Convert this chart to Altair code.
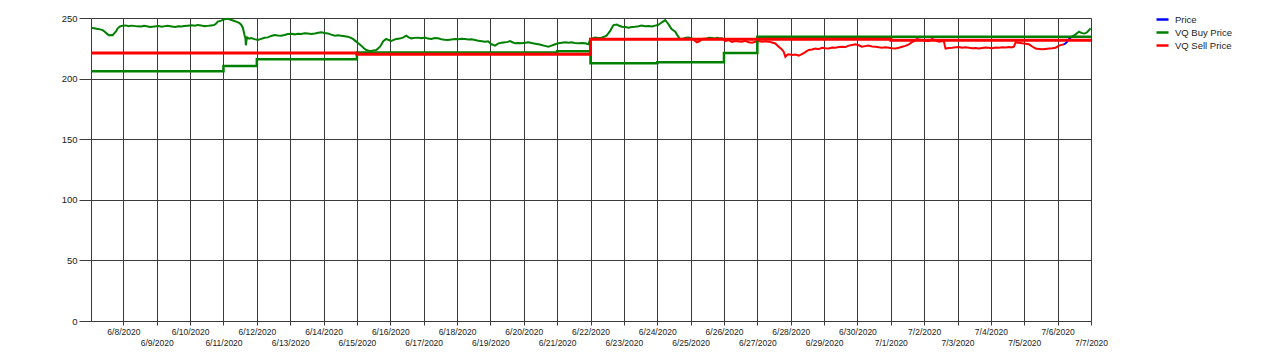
import altair as alt
import pandas as pd

# ---------------- data (days since 2020-06-07 00:00) ----------------
price_day = [
    0.03, 0.12, 0.23, 0.30, 0.38, 0.45, 0.53, 0.58, 0.63, 0.68, 0.73, 0.78, 0.83, 0.90, 0.98,
    1.08, 1.15, 1.23, 1.32, 1.40, 1.53, 1.62, 1.70, 1.80, 1.93, 2.05, 2.15, 2.25, 2.33, 2.45,
    2.55, 2.65, 2.73, 2.83, 2.93, 3.05, 3.15, 3.23, 3.33, 3.43, 3.53, 3.63, 3.73, 3.78, 3.83,
    3.93, 4.03, 4.13, 4.22, 4.33, 4.40, 4.48, 4.53, 4.58, 4.63, 4.66, 4.67, 4.69, 4.71, 4.77,
    4.83, 4.93, 5.03, 5.13, 5.23, 5.33, 5.43, 5.53, 5.63, 5.73, 5.83, 5.93, 6.04, 6.14, 6.23,
    6.33, 6.43, 6.53, 6.63, 6.74, 6.84, 6.93, 7.03, 7.13, 7.23, 7.34, 7.43, 7.53, 7.63, 7.73,
    7.80, 7.88, 7.98, 8.05, 8.13, 8.20, 8.28, 8.36, 8.43, 8.50, 8.58, 8.64, 8.69, 8.74, 8.78,
    8.83, 8.88, 8.95, 9.03, 9.10, 9.18, 9.28, 9.38, 9.43, 9.48, 9.55, 9.63, 9.73, 9.83, 9.93,
    10.04, 10.13, 10.23, 10.33, 10.43, 10.53, 10.63, 10.73, 10.83, 10.94, 11.04, 11.14, 11.24,
    11.34, 11.44, 11.54, 11.64, 11.74, 11.84, 11.93, 12.03, 12.08, 12.14, 12.24, 12.34, 12.44,
    12.52, 12.59, 12.66, 12.74, 12.84, 12.93, 13.04, 13.14, 13.24, 13.34, 13.44, 13.53, 13.63,
    13.74, 13.81, 13.88, 13.96, 14.04, 14.14, 14.24, 14.34, 14.43, 14.53, 14.64, 14.74, 14.84,
    14.94, 14.99, 15.07, 15.14, 15.24, 15.33, 15.41, 15.48, 15.54, 15.59, 15.64, 15.69, 15.79,
    15.86, 15.94, 16.04, 16.14, 16.24, 16.34, 16.44, 16.53, 16.64, 16.74, 16.84, 16.94, 17.02,
    17.09, 17.17, 17.24, 17.29, 17.34, 17.39, 17.43, 17.50, 17.54, 17.61, 17.68, 17.79, 17.86,
    17.94, 18.05, 18.12, 18.19, 18.27, 18.34, 18.45, 18.55, 18.64, 18.72, 18.80, 18.88, 18.94,
    19.04, 19.14, 19.24, 19.34, 19.44, 19.54, 19.64, 19.74, 19.84, 19.94, 20.04, 20.14, 20.24,
    20.34, 20.44, 20.54, 20.64, 20.72, 20.79, 20.84, 20.89, 20.94, 21.04, 21.14, 21.24, 21.32,
    21.39, 21.47, 21.54, 21.64, 21.74, 21.84, 21.94, 22.04, 22.14, 22.24, 22.34, 22.44, 22.53,
    22.64, 22.74, 22.84, 22.94, 23.04, 23.13, 23.23, 23.33, 23.44, 23.54, 23.64, 23.73, 23.84,
    23.94, 24.04, 24.14, 24.24, 24.34, 24.44, 24.54, 24.62, 24.69, 24.79, 24.86, 24.94, 25.04,
    25.14, 25.24, 25.34, 25.44, 25.52, 25.59, 25.62, 25.64, 25.74, 25.84, 25.94, 26.04, 26.14,
    26.24, 26.34, 26.44, 26.54, 26.64, 26.74, 26.84, 26.94, 27.04, 27.14, 27.24, 27.34, 27.44,
    27.54, 27.62, 27.69, 27.72, 27.74, 27.84, 27.94, 28.04, 28.14, 28.24, 28.34, 28.44, 28.54,
    28.64, 28.74, 28.84, 28.94, 29.04, 29.12, 29.19, 29.24, 29.30, 29.34, 29.38, 29.42, 29.48,
    29.54, 29.60, 29.64, 29.69, 29.74, 29.79, 29.84, 29.89, 29.94, 29.99,
]
price_val = [
    242.0, 241.6, 241.0, 240.6, 240.0, 238.5, 236.5, 235.6, 236.0, 235.8, 237.5, 239.0, 241.5, 243.0, 243.7,
    243.9, 243.3, 243.7, 243.5, 243.1, 243.0, 243.5, 243.2, 242.6, 243.0, 243.4, 242.8, 243.3, 243.5, 243.0,
    242.6, 243.1, 243.0, 243.4, 243.7, 244.0, 243.6, 244.3, 243.8, 243.3, 243.5, 243.9, 244.3, 245.5, 247.0,
    247.8, 249.0, 249.3, 248.6, 247.5, 246.8, 245.8, 244.5, 242.0, 236.0, 233.0, 227.5, 231.5, 234.0, 233.0,
    233.5, 232.6, 231.8, 232.8, 233.7, 234.0, 235.2, 236.0, 235.6, 235.3, 236.0, 236.8, 236.9, 236.5, 237.0,
    236.8, 237.4, 237.3, 236.9, 237.3, 237.8, 238.2, 237.6, 237.3, 236.3, 235.4, 235.8, 235.4, 235.0, 234.6,
    233.8, 232.7, 230.5, 229.0, 227.2, 225.3, 223.6, 223.0, 222.8, 223.3, 223.6, 225.0, 226.3, 228.5, 230.5,
    231.8, 232.7, 231.8, 231.0, 232.0, 232.7, 233.0, 233.8, 234.6, 235.4, 234.0, 233.2, 233.6, 233.8, 233.3,
    233.8, 233.0, 232.7, 233.4, 233.2, 232.5, 232.0, 231.8, 232.3, 232.7, 232.4, 232.9, 232.7,
    232.2, 232.5, 231.8, 231.3, 230.9, 230.5, 230.8, 228.3, 227.9, 227.2, 229.1, 229.5, 229.9,
    230.3, 231.0, 230.0, 229.1, 229.4, 229.1, 229.6, 229.9, 229.3, 228.8, 228.3, 227.7, 227.0,
    226.3, 227.0, 227.7, 228.5, 229.1, 229.6, 229.9, 229.5, 229.9, 229.4, 229.1, 229.3, 229.1,
    228.3, 232.7, 233.3, 233.8, 233.5, 233.8, 234.5, 235.4, 237.5, 239.3, 242.0, 244.2, 244.7,
    243.6, 242.8, 242.5, 242.0, 242.6, 242.8, 243.2, 243.7, 243.2, 243.4, 243.0, 243.7, 244.2,
    245.5, 247.0, 248.3, 246.5, 244.7, 242.5, 240.9, 239.5, 238.7, 235.4, 232.7, 233.2, 233.8,
    234.0, 233.2, 231.5, 230.0, 231.0, 232.7, 233.0, 233.6, 233.5, 233.1, 233.6, 233.2, 233.5,
    231.0, 231.8, 230.2, 231.0, 230.6, 230.5, 231.2, 230.0, 229.6, 230.4, 231.0, 230.4, 230.8,
    230.5, 229.8, 229.0, 226.3, 224.5, 222.2, 218.0, 219.5, 220.0, 219.5, 219.8, 219.0, 220.0,
    221.0, 222.5, 223.6, 224.0, 224.8, 224.3, 225.5, 225.0, 224.8, 225.6, 225.5, 226.0, 226.3,
    226.0, 227.2, 227.8, 228.3, 227.5, 226.3, 226.8, 227.2, 226.5, 226.3, 225.8, 225.5, 225.9,
    225.5, 225.0, 224.8, 225.5, 226.3, 227.0, 228.3, 229.8, 231.0, 232.7, 232.0, 231.8, 231.3,
    231.0, 232.7, 231.5, 230.5, 230.8, 231.0, 227.0, 224.8, 225.3, 225.5, 225.8, 226.0, 225.4,
    225.8, 225.5, 225.0, 225.3, 224.8, 225.2, 225.6, 225.5, 225.1, 225.6, 225.5, 225.8, 225.6,
    226.0, 225.7, 226.3, 228.5, 229.9, 229.6, 229.1, 228.8, 228.3, 226.5, 224.8, 224.5, 224.2,
    224.5, 224.8, 225.0, 225.5, 227.2, 227.8, 228.3, 229.1, 231.0, 232.7, 233.5, 234.6, 235.5,
    236.5, 237.8, 238.7, 238.0, 237.5, 237.3, 237.5, 238.5, 240.0, 241.5,
]
# colour of the price trace between successive break days
price_breaks = [0.03, 18.05, 18.45, 18.94, 29.19, 29.42, 29.99]
price_colors = ["VQ Buy Price", "VQ Sell Price", "VQ Buy Price", "VQ Sell Price", "Price", "VQ Buy Price"]

buy_day = [0.03, 4.0, 5.0, 8.0, 14.0, 15.0, 17.0, 19.0, 20.0, 30.0]
buy_val = [206.0, 210.4, 216.0, 221.5, 222.6, 212.6, 213.4, 221.1, 234.6, 234.6]

sell_day = [0.03, 8.0, 15.0, 24.0, 30.0]
sell_val = [221.2, 220.1, 232.5, 231.7, 231.7]

series_names = ["Price", "VQ Buy Price", "VQ Sell Price"]
series_colors = ["#0000FF", "#008000", "#FF0000"]
y_ticks = [0, 50, 100, 150, 200, 250]

# ---------------- tables ----------------
base = pd.Timestamp("2020-06-07")


def to_time(days):
    return [base + pd.Timedelta(days=float(d)) for d in days]


rows = []
for i, name in enumerate(price_colors):
    lo, hi = price_breaks[i], price_breaks[i + 1]
    for d, v in zip(price_day, price_val):
        if lo - 1e-9 <= d <= hi + 1e-9:
            rows.append({"t": base + pd.Timedelta(days=d), "v": v, "series": name, "seg": i})
price_df = pd.DataFrame(rows)

buy_df = pd.DataFrame({"t": to_time(buy_day), "v": buy_val, "series": "VQ Buy Price"})
sell_df = pd.DataFrame({"t": to_time(sell_day), "v": sell_val, "series": "VQ Sell Price"})

FONT = "Liberation Sans"
GRID = "#3a3a3a"

x_enc = alt.X(
    "t:T",
    scale=alt.Scale(
        domain=[
            alt.DateTime(year=2020, month=6, date=7, hours=0, minutes=43),
            alt.DateTime(year=2020, month=7, date=7, hours=0, minutes=0),
        ]
    ),
    axis=alt.Axis(
        title=None,
        format="%-m/%-d/%Y",
        tickCount={"interval": "day", "step": 1},
        labelExpr="date(datum.value) % 2 == 0 ? [datum.label] : ['', datum.label]",
        labelOverlap=False,
        labelFlush=False,
        labelBaseline="top",
        labelLineHeight=11,
        labelPadding=2,
        labelFont=FONT,
        labelFontSize=8.5,
        labelColor="#222222",
        grid=True,
        gridColor=GRID,
        gridWidth=1,
        gridOpacity=1,
        tickColor=GRID,
        tickSize=4,
        domainColor=GRID,
    ),
)
y_enc = alt.Y(
    "v:Q",
    scale=alt.Scale(domain=[0, 250], nice=False),
    axis=alt.Axis(
        title=None,
        values=y_ticks,
        grid=True,
        gridColor=GRID,
        gridWidth=1,
        gridOpacity=1,
        tickColor=GRID,
        tickSize=12,
        labelPadding=2,
        labelFont=FONT,
        labelFontSize=9.5,
        labelColor="#222222",
        domainColor=GRID,
    ),
)
color_enc = alt.Color(
    "series:N",
    scale=alt.Scale(domain=series_names, range=series_colors),
    legend=alt.Legend(
        title=None,
        orient="none",
        legendX=1064,
        legendY=-6,
        symbolType="stroke",
        symbolStrokeWidth=2.5,
        symbolSize=144,
        rowPadding=-3,
        labelFont=FONT,
        labelFontSize=9.5,
        labelColor="#222222",
        labelOffset=5,
    ),
)

price_layer = alt.Chart(price_df).mark_line(strokeWidth=2).encode(
    x=x_enc, y=y_enc, color=color_enc, detail="seg:N"
)
buy_layer = alt.Chart(buy_df).mark_line(strokeWidth=2.5, interpolate="step-after").encode(
    x=x_enc, y=y_enc, color=color_enc
)
sell_layer = alt.Chart(sell_df).mark_line(strokeWidth=3, interpolate="step-after").encode(
    x=x_enc, y=y_enc, color=color_enc
)

chart = (
    alt.layer(price_layer, buy_layer, sell_layer)
    .properties(
        width=1000,
        height=303,
        autosize=alt.AutoSizeParams(type="none"),
        padding={"left": 83, "top": 10, "right": 181, "bottom": 40},
        background="white",
    )
    .configure_view(stroke=None)
)

chart.save("out.html", embed_options={"renderer": "svg", "actions": False})
